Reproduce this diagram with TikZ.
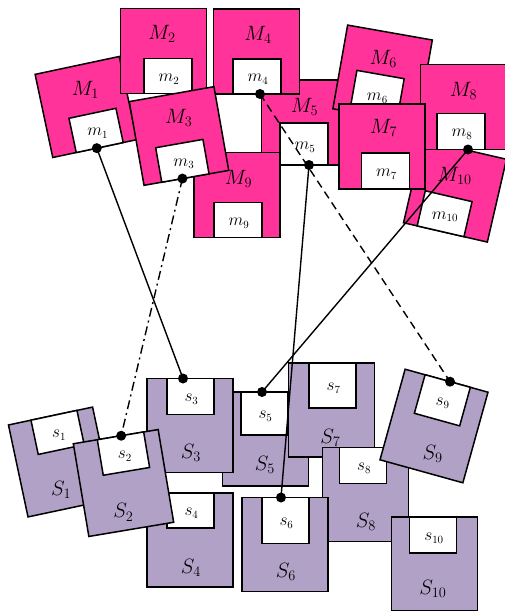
\documentclass[tikz,border=0pt]{standalone}
\usepackage{xcolor}
\definecolor{mpink}{RGB}{255,51,153}
\definecolor{spurple}{RGB}{178,161,199}
\newcommand\Mmod[9]{%
  \begin{scope}[shift={#2}, rotate=#3]
    \draw[mbox] (-43,-42.5) rectangle (43,42.5);
    \draw[inbox] ({#4-24},{42.5-#5}) rectangle ({#4+24},42.5);
    \node[biglab] (#1) at #6 {#7};
    \node[smalllab] (#1i) at ({#4+1},{42.5-#5/2+3}) {#8};
    \if\relax\detokenize{#9}\relax\else\node[dotn] (#1d) at (#9,42.5) {};\fi
  \end{scope}}
\newcommand\Smod[9]{%
  \begin{scope}[shift={#2}, rotate=#3]
    \draw[sbox] (-43,-47) rectangle (43,47);
    \draw[inbox] ({#4-23.5},-47) rectangle ({#4+23.5},{-47+#5});
    \node[biglab] (#1) at #6 {#7};
    \node[smalllab] (#1i) at ({#4+1},{-47+#5/2+3}) {#8};
    \if\relax\detokenize{#9}\relax\else\node[dotn] (#1d) at (#9,-47) {};\fi
  \end{scope}}
\begin{document}
\begin{tikzpicture}[x=1pt,y=-1pt,
  mbox/.style={draw=black, line width=1.5pt, fill=mpink},
  sbox/.style={draw=black, line width=1.5pt, fill=spurple},
  inbox/.style={draw=black, line width=1.5pt, fill=white},
  biglab/.style={inner sep=0pt, font=\fontsize{21}{24}\selectfont, text=black},
  smalllab/.style={inner sep=0pt, font=\fontsize{16}{18}\selectfont, text=black},
  dotn/.style={circle, fill=black, inner sep=0pt, minimum size=10pt},
  link/.style={line width=1.4pt},
  dashdot/.style={dash pattern=on 9pt off 4pt on 2pt off 4pt},
  dashlink/.style={dash pattern=on 8pt off 5pt}]
\useasboundingbox (0,0) rectangle (505,611);
% upper modules
\Mmod{M5}{(304.5,122.5)}{0}{-0.5}{42}{(0,-15.5)}{$M_5$}{$m_5$}{4.5}
\Mmod{M4}{(256.5,51.5)}{0}{0.5}{35}{(1.5,-16.5)}{$M_4$}{$m_4$}{3.5}
\Mmod{M9}{(237,195)}{0}{1}{35}{(1.5,-16)}{$M_9$}{$m_9$}{}
\Mmod{M1}{(86,107)}{12}{5}{35}{(3,-17)}{$M_1$}{$m_1$}{2}
\Mmod{M2}{(163.5,51)}{0}{4.5}{35}{(-1.5,-17)}{$M_2$}{$m_2$}{}
\Mmod{M3}{(179,136)}{10}{-1}{35}{(3,-18)}{$M_3$}{$m_3$}{-4}
\Mmod{M6}{(382.6,74.4)}{-10}{-2}{42}{(-2,-15)}{$M_6$}{$m_6$}{}
\Mmod{M10}{(455,191)}{-13}{-5}{36}{(-4,-15)}{$M_{10}$}{$m_{10}$}{}
\Mmod{M8}{(463.5,107)}{0}{-2.5}{36}{(0,-16)}{$M_8$}{$m_8$}{4.5}
\Mmod{M7}{(382,146.5)}{0}{3.5}{36}{(1.5,-19)}{$M_7$}{$m_7$}{}
% lower modules
\Smod{S5}{(265.5,439)}{0}{-1}{43}{(-0.5,26)}{$S_5$}{$s_5$}{-3.5}
\Smod{S3}{(190,425.5)}{0}{0.5}{36}{(1,27.5)}{$S_3$}{$s_3$}{-7}
\Smod{S4}{(190,540)}{0}{0.5}{35}{(1,28)}{$S_4$}{$s_4$}{}
\Smod{S1}{(60.3,462)}{12}{3.5}{35}{(-5,27.5)}{$S_1$}{$s_1$}{}
\Smod{S2}{(123.5,483)}{9.5}{4.8}{36}{(-5,29)}{$S_2$}{$s_2$}{5.5}
\Smod{S7}{(331.5,410)}{0}{1}{45}{(-1,27.5)}{$S_7$}{$s_7$}{}
\Smod{S8}{(365.5,494.5)}{0}{-2.5}{36}{(0.5,27.5)}{$S_8$}{$s_8$}{}
\Smod{S6}{(285,544.5)}{0}{0.5}{46}{(1,27.5)}{$S_6$}{$s_6$}{-4}
\Smod{S10}{(434.5,564)}{0}{-1.5}{36}{(-1.5,25)}{$S_{10}$}{$s_{10}$}{}
\Smod{S9}{(434,426)}{-15.5}{1.2}{40}{(6,27)}{$S_9$}{$s_9$}{3.6}
% links
\draw[link] (M1d.center) -- (S3d.center);
\draw[link, dashdot] (M3d.center) -- (S2d.center);
\draw[link, dashlink] (M4d.center) -- (S9d.center);
\draw[link] (M5d.center) -- (S6d.center);
\draw[link] (M8d.center) -- (S5d.center);
\end{tikzpicture}
\end{document}
